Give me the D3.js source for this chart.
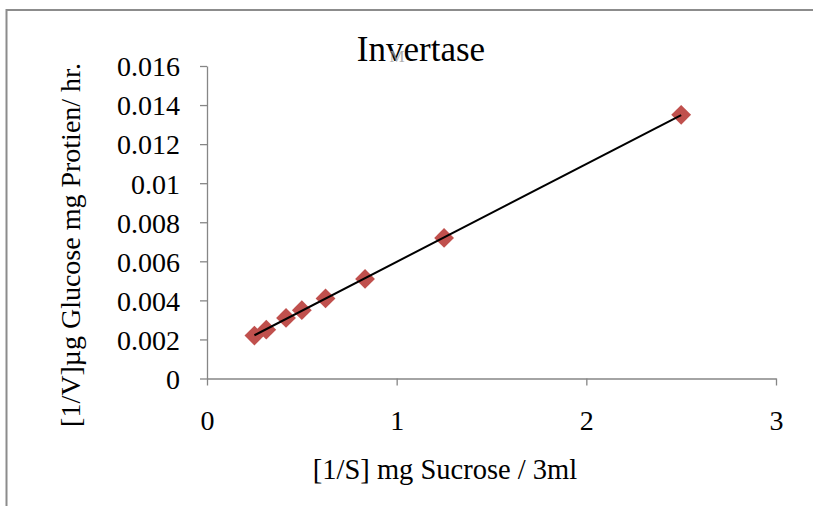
<!DOCTYPE html>
<html><head><meta charset="utf-8">
<script src="https://cdn.jsdelivr.net/npm/d3@7"></script>
<style>body{margin:0;background:#fff}svg{display:block}text{font-family:"Liberation Serif","Times New Roman",serif}</style>
</head><body><svg id="c" width="813" height="506"></svg>
<script>
const titleText = "Invertase";
const xLabel = "[1/S] mg Sucrose / 3ml";
const yLabel = "[1/V]µg Glucose mg Protien/ hr.";
const xValues = [0.25, 0.3125, 0.4167, 0.5, 0.625, 0.8333, 1.25, 2.5];
const yValues = [0.0022, 0.0025, 0.0031, 0.0035, 0.0041, 0.0051, 0.0072, 0.0135];
const xTicks = [0, 1, 2, 3];
const yTicks = [0, 0.002, 0.004, 0.006, 0.008, 0.01, 0.012, 0.014, 0.016];

const svg = d3.select("#c");
svg.append("rect").attr("x",6.5).attr("y",10).attr("width",900).attr("height",600)
  .attr("fill","none").attr("stroke","#8c8c8c").attr("stroke-width",2);

const x = d3.scaleLinear().domain([0,3]).range([207,776]);
const y = d3.scaleLinear().domain([0,0.016]).range([378.5,66]);

const axisColor = "#868686";
const gx = svg.append("g").attr("transform","translate(0,378.5)")
  .call(d3.axisBottom(x).tickValues(xTicks).tickSize(7).tickSizeOuter(0).tickPadding(25).tickFormat(d3.format("d")));
const gy = svg.append("g").attr("transform","translate(207,0)")
  .call(d3.axisLeft(y).tickValues(yTicks).tickSize(7).tickSizeOuter(0).tickPadding(20).tickFormat(d=>d===0?"0":String(+d.toFixed(3))));
[gx,gy].forEach(g=>{
  g.select(".domain").attr("stroke",axisColor).attr("stroke-width",1.3);
  g.selectAll(".tick line").attr("stroke",axisColor).attr("stroke-width",1.3);
  g.selectAll(".tick text").attr("fill","#000").style("font-size","28px").style("font-family","'Liberation Serif',serif");
});
gy.selectAll(".tick text").attr("dy","0.35em");
gx.selectAll(".tick text").attr("dy","0.71em");

// trendline (least squares fit)
const n = xValues.length;
const mx = d3.mean(xValues), my = d3.mean(yValues);
let sxy=0, sxx=0;
for(let i=0;i<n;i++){sxy+=(xValues[i]-mx)*(yValues[i]-my);sxx+=(xValues[i]-mx)**2;}
const slope = sxy/sxx, icpt = my - slope*mx;
const x0 = d3.min(xValues), x1 = d3.max(xValues);

const sym = d3.symbol().type(d3.symbolSquare).size(196);
svg.append("g").selectAll("path").data(xValues.map((v,i)=>[v,yValues[i]])).join("path")
  .attr("d",sym).attr("fill","#c0504d")
  .attr("transform",d=>`translate(${x(d[0])},${y(d[1])}) rotate(45)`);

svg.append("line").attr("x1",x(x0)).attr("y1",y(icpt+slope*x0))
  .attr("x2",x(x1)).attr("y2",y(icpt+slope*x1)).attr("stroke","#000").attr("stroke-width",2);

svg.append("text").attr("x",421).attr("y",61).attr("text-anchor","middle")
  .style("font-size","35px").text(titleText);
svg.append("text").attr("x",397).attr("y",62).attr("text-anchor","middle")
  .style("font-size","17px").attr("fill","#9a9a9a").attr("opacity",0.8).text("M");

svg.append("text").attr("x",445).attr("y",479).attr("text-anchor","middle")
  .style("font-size","28.5px").text(xLabel);
svg.append("text").attr("transform","translate(80,245) rotate(-90)").attr("text-anchor","middle")
  .style("font-size","28px").text(yLabel);
</script></body></html>
